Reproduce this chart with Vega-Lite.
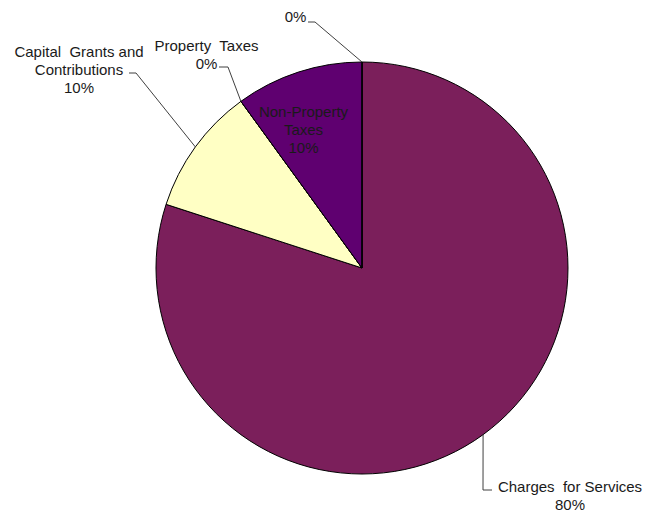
{
  "$schema": "https://vega.github.io/schema/vega-lite/v6.json",
  "width": 412,
  "height": 412,
  "autosize": "none",
  "padding": {"left": 156, "top": 62, "right": 77, "bottom": 38},
  "background": "#ffffff",
  "config": {"view": {"stroke": null}},
  "data": {
    "values": [
      {"rank": 1, "category": "Charges for Services", "value": 80, "label": "Charges\u00a0 for Services\n80%"},
      {"rank": 2, "category": "Capital Grants and Contributions", "value": 10, "label": "Capital\u00a0 Grants and\nContributions\n10%"},
      {"rank": 3, "category": "Property Taxes", "value": 0, "label": "Property\u00a0 Taxes\n0%"},
      {"rank": 4, "category": "Non-Property Taxes", "value": 10, "label": "Non-Property\nTaxes\n10%"},
      {"rank": 5, "category": "Other", "value": 0, "label": "0%"}
    ]
  },
  "layer": [
    {
      "mark": {"type": "arc", "stroke": "#000000", "strokeWidth": 1},
      "encoding": {
        "theta": {"field": "value", "type": "quantitative", "stack": true},
        "order": {"field": "rank", "type": "quantitative"},
        "color": {
          "field": "category",
          "type": "nominal",
          "legend": null,
          "scale": {
            "domain": ["Charges for Services", "Capital Grants and Contributions", "Property Taxes", "Non-Property Taxes", "Other"],
            "range": ["#7b1f5b", "#ffffc4", "#3a3a8c", "#5f0070", "#999999"]
          }
        }
      }
    },
    {
      "transform": [
        {"window": [{"op": "sum", "field": "value", "as": "cum"}], "sort": [{"field": "rank"}], "frame": [null, 0]},
        {"filter": "datum.rank != 4"},
        {"calculate": "(datum.cum - datum.value / 2) / 100 * 2 * PI", "as": "mid"},
        {"calculate": "206 * sin(datum.mid)", "as": "sx"},
        {"calculate": "-206 * cos(datum.mid)", "as": "sy"},
        {"calculate": "[121, -226, -134, 0, -47][datum.rank - 1]", "as": "ex"},
        {"calculate": "[222, -195, -201, 0, -246][datum.rank - 1]", "as": "ey"}
      ],
      "mark": {"type": "rule", "color": "#404040", "strokeWidth": 1},
      "encoding": {
        "x": {"field": "sx", "type": "quantitative", "axis": null, "scale": {"domain": [-206, 206], "nice": false, "zero": false}},
        "y": {"field": "sy", "type": "quantitative", "axis": null, "scale": {"domain": [-206, 206], "reverse": true, "nice": false, "zero": false}},
        "x2": {"field": "ex"},
        "y2": {"field": "ey"}
      }
    },
    {
      "transform": [
        {"filter": "datum.rank != 4"},
        {"calculate": "[121, -226, -134, 0, -47][datum.rank - 1]", "as": "ex"},
        {"calculate": "[222, -195, -201, 0, -246][datum.rank - 1]", "as": "ey"},
        {"calculate": "[130, -233, -143, 0, -54][datum.rank - 1]", "as": "hx"}
      ],
      "mark": {"type": "rule", "color": "#404040", "strokeWidth": 1},
      "encoding": {
        "x": {"field": "ex", "type": "quantitative", "axis": null, "scale": {"domain": [-206, 206], "nice": false, "zero": false}},
        "y": {"field": "ey", "type": "quantitative", "axis": null, "scale": {"domain": [-206, 206], "reverse": true, "nice": false, "zero": false}},
        "x2": {"field": "hx"},
        "y2": {"field": "ey"}
      }
    },
    {
      "transform": [
        {"calculate": "[208, -283, -155.5, -58.5, -66.5][datum.rank - 1]", "as": "lx"},
        {"calculate": "[211.5, -223.5, -229.5, -163.5, -258.5][datum.rank - 1]", "as": "ly"}
      ],
      "mark": {
        "type": "text",
        "font": "Liberation Sans",
        "fontSize": 15,
        "lineHeight": 18,
        "lineBreak": "\n",
        "align": "center",
        "baseline": "top",
        "color": "#1a1a1a"
      },
      "encoding": {
        "x": {"field": "lx", "type": "quantitative", "axis": null, "scale": {"domain": [-206, 206], "nice": false, "zero": false}},
        "y": {"field": "ly", "type": "quantitative", "axis": null, "scale": {"domain": [-206, 206], "reverse": true, "nice": false, "zero": false}},
        "text": {"field": "label"}
      }
    }
  ]
}
